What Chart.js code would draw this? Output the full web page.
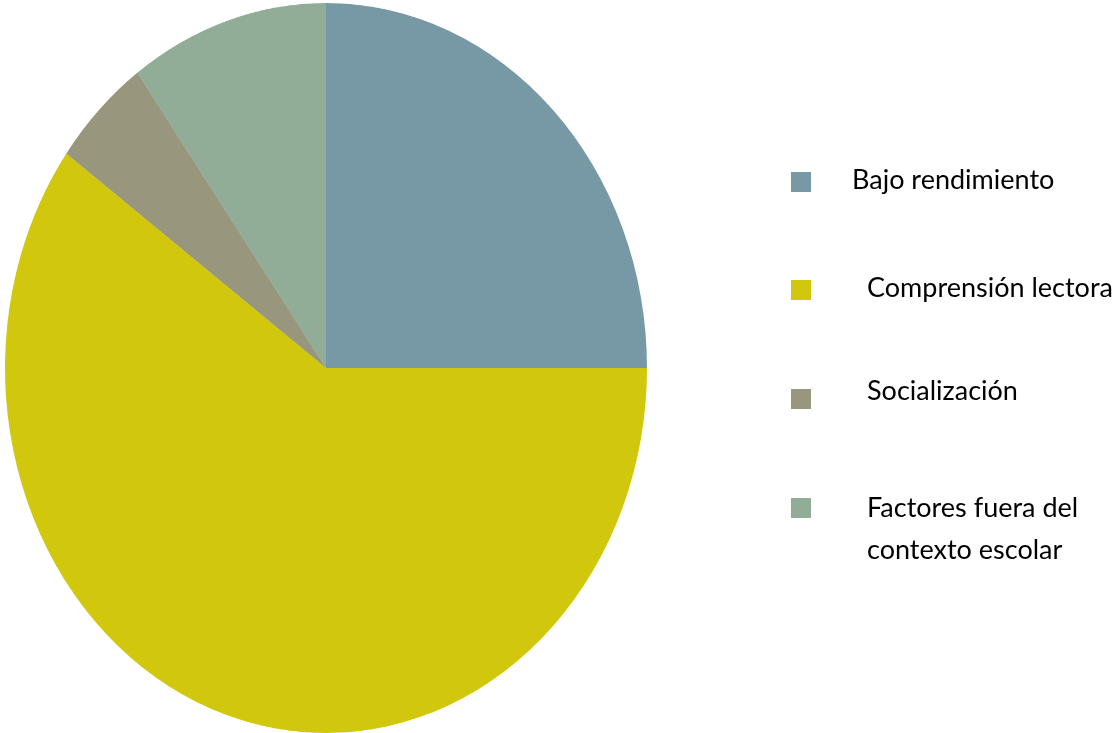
<!DOCTYPE html>
<html>
<head>
<meta charset="utf-8">
<script src="https://cdn.jsdelivr.net/npm/chart.js@4.4.1/dist/chart.umd.min.js"></script>
<style>
  html, body { margin: 0; padding: 0; background: #ffffff; width: 1117px; height: 733px; overflow: hidden; }
  #pieWrap { position: absolute; left: 5px; top: 47px; width: 642px; height: 642px; transform: scaleY(1.137); transform-origin: 50% 50%; }
  #legend { position: absolute; left: 0; top: 0; width: 1117px; height: 733px; pointer-events: none; font-family: Lato, "Open Sans", sans-serif; font-size: 27px; color: #000; }
  .sw { position: absolute; left: 791px; width: 20px; height: 20px; }
  .lb { position: absolute; line-height: 42px; white-space: nowrap; }
</style>
</head>
<body>
<div id="pieWrap"><canvas id="c"></canvas></div>
<div id="legend"></div>
<script>
const categories = ["Bajo rendimiento", "Comprensión lectora", "Socialización", "Factores fuera del contexto escolar"];
const legendLines = [["Bajo rendimiento"], ["Comprensión lectora"], ["Socialización"], ["Factores fuera del", "contexto escolar"]];
const values = [25, 60, 5, 10];
const colors = ["#7699A5", "#D1C80E", "#99967E", "#91AC97"];

new Chart(document.getElementById('c'), {
  type: 'pie',
  data: {
    labels: categories,
    datasets: [{ data: values, backgroundColor: colors, borderWidth: 0, hoverOffset: 0 }]
  },
  options: {
    responsive: true,
    maintainAspectRatio: false,
    animation: false,
    devicePixelRatio: 2,
    layout: { padding: 0 },
    plugins: { legend: { display: false }, tooltip: { enabled: false } }
  }
});

// HTML legend built from the arrays
const swatchTops = [172, 280, 389, 498];
const labelTops = [158, 266, 369, 486];
const labelLefts = [852, 867, 867, 867];
const legend = document.getElementById('legend');
categories.forEach((cat, i) => {
  const sw = document.createElement('div');
  sw.className = 'sw';
  sw.style.top = swatchTops[i] + 'px';
  sw.style.background = colors[i];
  legend.appendChild(sw);
  const lb = document.createElement('div');
  lb.className = 'lb';
  lb.style.top = labelTops[i] + 'px';
  lb.style.left = labelLefts[i] + 'px';
  lb.innerHTML = legendLines[i].join('<br>');
  legend.appendChild(lb);
});
</script>
</body>
</html>
